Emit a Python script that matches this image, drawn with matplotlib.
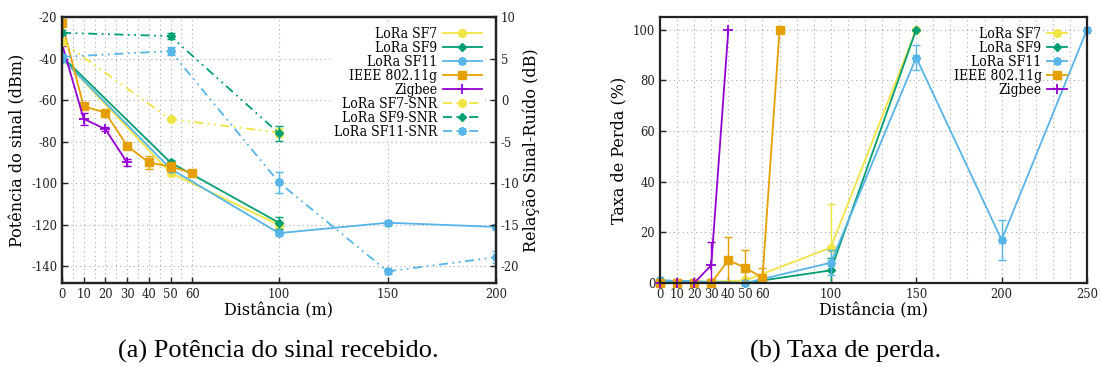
import matplotlib
matplotlib.use('Agg')
import matplotlib.pyplot as plt
from matplotlib import font_manager as fm
import numpy as np
from matplotlib.ticker import FixedLocator, NullLocator

plt.rcParams['font.family'] = ['DejaVu Serif']
plt.rcParams['axes.unicode_minus'] = False

# ---------------- data: (a) received signal power ----------------
x_sf7 = [0, 50, 100]
rssi_sf7 = [-40, -95, -120]
rssi_sf7_err = [0, 1.5, 2]
x_sf9 = [0, 50, 100]
rssi_sf9 = [-39, -90, -119]
rssi_sf9_err = [0, 1, 3]
x_sf11 = [0, 50, 100, 150, 200]
rssi_sf11 = [-40, -93, -124, -119, -121]
rssi_sf11_err = [0, 1, 1, 1, 1]
x_wifi = [0, 10, 20, 30, 40, 50, 60]
rssi_wifi = [-23, -63, -66, -82, -90, -92, -95]
rssi_wifi_err = [1, 1, 1, 1, 3, 2, 1]
x_zig = [0, 10, 20, 30]
rssi_zig = [-33, -69, -74, -90]
rssi_zig_err = [1, 3, 1, 1.5]

x_snr_sf7 = [0, 50, 100]
snr_sf7 = [7.0, -2.3, -3.9]
snr_sf7_err = [0, 0, 0.5]
x_snr_sf9 = [0, 50, 100]
snr_sf9 = [8.1, 7.7, -4.0]
snr_sf9_err = [0.3, 0.4, 0.9]
x_snr_sf11 = [0, 50, 100, 150, 200]
snr_sf11 = [5.2, 5.9, -9.9, -20.6, -18.9]
snr_sf11_err = [0.3, 0.5, 1.3, 0.3, 0.7]

# ---------------- data: (b) loss rate ----------------
xl_sf7 = [0, 50, 100, 150]
loss_sf7 = [0, 1, 14, 100]
loss_sf7_err = [0, 0, 17, 0]
xl_sf9 = [0, 50, 100, 150]
loss_sf9 = [1, 0, 5, 100]
loss_sf9_err = [0, 0, 5, 0]
xl_sf11 = [0, 50, 100, 150, 200, 250]
loss_sf11 = [1, 0, 8, 89, 17, 100]
loss_sf11_err = [0, 0, 5, 5, 8, 0]
xl_wifi = [0, 10, 20, 30, 40, 50, 60, 70]
loss_wifi = [0, 0, 0, 0, 9, 6, 2, 100]
loss_wifi_err = [0, 0, 0, 0, 9, 7, 4, 0]
xl_zig = [0, 10, 20, 30, 40]
loss_zig = [0, 0, 0, 7, 100]
loss_zig_err = [0, 0, 0, 9, 0]

xticks_a = [0, 10, 20, 30, 40, 50, 60, 100, 150, 200]
xticks_b = [0, 10, 20, 30, 40, 50, 60, 100, 150, 200, 250]
yticks_a = [-20, -40, -60, -80, -100, -120, -140]
yticks_a2 = [10, 5, 0, -5, -10, -15, -20]
yticks_b = [0, 20, 40, 60, 80, 100]
vgrid_a = [5, 10, 15, 20, 25, 30, 35, 40, 45, 50, 55, 60, 100, 150]
vgrid_b = [10, 20, 30, 40, 50, 60, 70, 80, 90, 100, 110, 120, 130, 140, 150,
           160, 170, 180, 190, 200, 210, 220, 230, 240]

YEL = '#f0e442'; GRN = '#009e73'; BLU = '#56b4e9'; ORG = '#e69f00'; PUR = '#9400d3'
AST = (8, 2, 0)
styles = {
    'sf7': dict(color=YEL, marker='o', ms=5.5),
    'sf9': dict(color=GRN, marker='D', ms=4.5),
    'sf11': dict(color=BLU, marker=AST, ms=6.5, mew=1.3),
    'wifi': dict(color=ORG, marker='s', ms=5.5),
    'zig': dict(color=PUR, marker='+', ms=7, mew=1.3),
}
DASH = (0, (5, 2.5, 1, 2.5, 1, 2.5))
GRIDKW = dict(ls=(0, (1, 3)), color='#aaaaaa', lw=0.8, zorder=0)
LW = 1.3
LABFS = 11.5

# condensed serif for ticks and legend if available
cond = fm.FontProperties(family='DejaVu Serif', stretch='condensed')
cond_file = fm.findfont(cond)
has_cond = 'Condensed' in cond_file
if has_cond:
    TICKFP = fm.FontProperties(fname=cond_file, size=9.3)
    LEGFP = fm.FontProperties(fname=cond_file, size=10)
else:
    TICKFP = fm.FontProperties(family='DejaVu Serif', size=8.6)
    LEGFP = fm.FontProperties(family='DejaVu Serif', size=8.8)


def draw(axis, x, y, err, key, label, ls='-'):
    st = styles[key]
    h, = axis.plot(x, y, ls=ls, lw=LW, label=label, **st)
    xe = [a for a, e in zip(x, err) if e > 0]
    ye = [b for b, e in zip(y, err) if e > 0]
    ee = [e for e in err if e > 0]
    if ee:
        axis.errorbar(xe, ye, yerr=ee, fmt='none', ecolor=st['color'],
                      elinewidth=1.0, capsize=3, capthick=1.0)
    return h


def style_axes(axis):
    for s in axis.spines.values():
        s.set_linewidth(1.6)
        s.set_color('#222222')
    axis.tick_params(direction='in', length=4, width=1, colors='#222222')


def fix_ticklabels(axis):
    for lab in axis.get_xticklabels() + axis.get_yticklabels():
        lab.set_fontproperties(TICKFP)


fig = plt.figure(figsize=(11.01, 3.67), dpi=100)

# ---------------- (a) ----------------
ax = fig.add_axes([62 / 1101, 84 / 367, 434 / 1101, 266 / 367])
ax2 = ax.twinx()
for v in vgrid_a:
    ax.axvline(v, **GRIDKW)
for v in yticks_a[1:]:
    ax.axhline(v, **GRIDKW)
hs = []
hs.append(draw(ax, x_sf7, rssi_sf7, rssi_sf7_err, 'sf7', 'LoRa SF7'))
hs.append(draw(ax, x_sf9, rssi_sf9, rssi_sf9_err, 'sf9', 'LoRa SF9'))
hs.append(draw(ax, x_sf11, rssi_sf11, rssi_sf11_err, 'sf11', 'LoRa SF11'))
hs.append(draw(ax, x_wifi, rssi_wifi, rssi_wifi_err, 'wifi', 'IEEE 802.11g'))
hs.append(draw(ax, x_zig, rssi_zig, rssi_zig_err, 'zig', 'Zigbee'))
hs.append(draw(ax2, x_snr_sf7, snr_sf7, snr_sf7_err, 'sf7', 'LoRa SF7-SNR', DASH))
hs.append(draw(ax2, x_snr_sf9, snr_sf9, snr_sf9_err, 'sf9', 'LoRa SF9-SNR', DASH))
hs.append(draw(ax2, x_snr_sf11, snr_sf11, snr_sf11_err, 'sf11', 'LoRa SF11-SNR', DASH))

ax.set_xlim(0, 200)
ax.set_ylim(-148, -20)
ax2.set_ylim(-22, 10)
ax.xaxis.set_major_locator(FixedLocator(xticks_a))
ax.set_xticklabels([str(t) for t in xticks_a])
ax.xaxis.set_minor_locator(NullLocator())
ax.set_yticks(yticks_a)
ax.set_yticklabels([str(t) for t in yticks_a])
ax2.set_yticks(yticks_a2)
ax2.set_yticklabels([str(t) for t in yticks_a2])
style_axes(ax)
style_axes(ax2)
fix_ticklabels(ax)
fix_ticklabels(ax2)
ax.set_xlabel('Distância (m)', fontsize=LABFS, labelpad=1)
ax.set_ylabel('Potência do sinal (dBm)', fontsize=LABFS, labelpad=3)
ax2.set_ylabel('Relação Sinal-Ruído (dB)', fontsize=LABFS, labelpad=2)
leg = ax2.legend(handles=hs, loc='upper right', bbox_to_anchor=(0.99, 1.0),
                 prop=LEGFP, markerfirst=False, handlelength=2.8,
                 labelspacing=0.0, handletextpad=0.4, borderpad=0.2,
                 frameon=True, fancybox=False, edgecolor='none',
                 facecolor='white', framealpha=1)

# ---------------- (b) ----------------
bx = fig.add_axes([660 / 1101, 84 / 367, 427 / 1101, 266 / 367])
for v in vgrid_b:
    bx.axvline(v, **GRIDKW)
for v in yticks_b[1:]:
    bx.axhline(v, **GRIDKW)
hb = []
hb.append(draw(bx, xl_sf7, loss_sf7, loss_sf7_err, 'sf7', 'LoRa SF7'))
hb.append(draw(bx, xl_sf9, loss_sf9, loss_sf9_err, 'sf9', 'LoRa SF9'))
hb.append(draw(bx, xl_sf11, loss_sf11, loss_sf11_err, 'sf11', 'LoRa SF11'))
hb.append(draw(bx, xl_wifi, loss_wifi, loss_wifi_err, 'wifi', 'IEEE 802.11g'))
hb.append(draw(bx, xl_zig, loss_zig, loss_zig_err, 'zig', 'Zigbee'))
for l in hb:
    l.set_clip_on(False)
bx.set_xlim(0, 250)
bx.set_ylim(0, 105)
bx.xaxis.set_major_locator(FixedLocator(xticks_b))
bx.set_xticklabels([str(t) for t in xticks_b])
bx.xaxis.set_minor_locator(NullLocator())
bx.set_yticks(yticks_b)
bx.set_yticklabels([str(t) for t in yticks_b])
style_axes(bx)
fix_ticklabels(bx)
bx.set_xlabel('Distância (m)', fontsize=LABFS, labelpad=1)
bx.set_ylabel('Taxa de Perda (%)', fontsize=LABFS, labelpad=4)
bx.legend(handles=hb, loc='upper right', bbox_to_anchor=(0.975, 1.0),
          prop=LEGFP, markerfirst=False, handlelength=1.4,
          labelspacing=0.0, handletextpad=0.4, borderpad=0.2,
          frameon=False)

# captions
fig.text(278 / 1101, 1 - 351 / 367, '(a) Potência do sinal recebido.',
         ha='center', va='center', fontsize=19, family='Liberation Serif')
fig.text(846 / 1101, 1 - 351 / 367, '(b) Taxa de perda.',
         ha='center', va='center', fontsize=19, family='Liberation Serif')

fig.savefig('out.png', dpi=100)
